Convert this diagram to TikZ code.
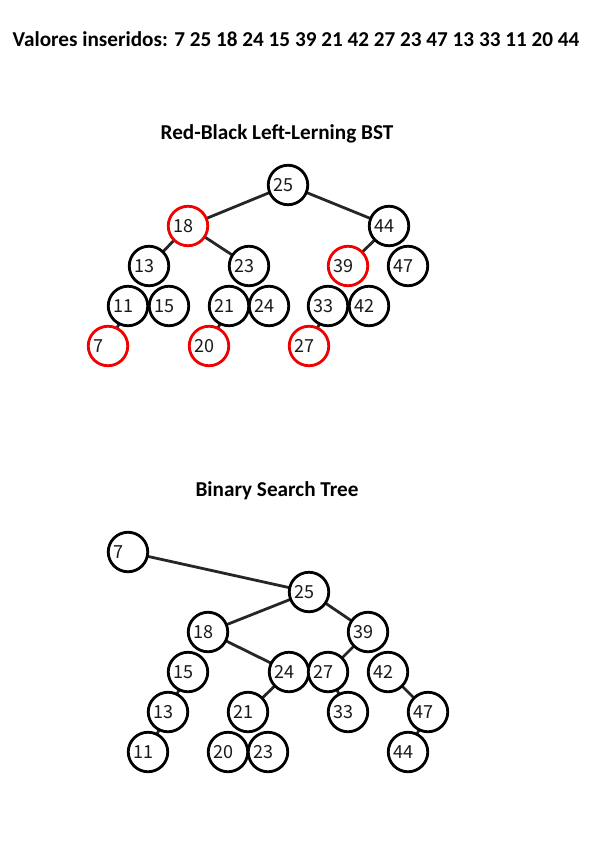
\documentclass[tikz,border=0pt]{standalone}
\usepackage{fontspec}
\usetikzlibrary{backgrounds}
\setmainfont{Carlito}
\newfontfamily\numfont{Noto Sans CJK JP}
\definecolor{rbred}{HTML}{F00000}
\definecolor{edgec}{HTML}{262626}
\definecolor{numc}{HTML}{1A1A1A}
\begin{document}
\begin{tikzpicture}[x=1pt,y=-1pt,
  nd/.style={circle, draw=black, line width=2.8pt, fill=white, minimum size=39.5pt, inner sep=0pt,
    text width=29pt, align=left, text height=12.5pt, text depth=0pt,
    font=\numfont\fontsize{18}{18}\selectfont, text=numc},
  rd/.style={nd, draw=rbred},
  edge/.style={draw=edgec, line width=2.8pt},
  ttl/.style={font=\bfseries\fontsize{21.2}{23}\selectfont, inner sep=0pt}]
\useasboundingbox (0,0) rectangle (595,842);
% titles
\node[ttl] (t1) at (296,39) {Valores inseridos: 7 25 18 24 15 39 21 42 27 23 47 13 33 11 20 44};
\node[ttl] (t2) at (277,134) {Red-Black Left-Lerning BST};
\node[ttl] (t3) at (277,491) {Binary Search Tree};
% Red-black tree
\node[nd] (r25) at (288,185) {25};
\node[rd] (r18) at (188,226) {18};
\node[nd] (r44) at (389,226) {44};
\node[nd] (r13) at (149,266) {13};
\node[nd] (r23) at (249,266) {23};
\node[rd] (r39) at (348,266) {39};
\node[nd] (r47) at (408,266) {47};
\node[nd] (r11) at (128,306) {11};
\node[nd] (r15) at (169,306) {15};
\node[nd] (r21) at (229,306) {21};
\node[nd] (r24) at (269,306) {24};
\node[nd] (r33) at (328,306) {33};
\node[nd] (r42) at (369,306) {42};
\node[rd] (r7) at (108,346) {7};
\node[rd] (r20) at (209,346) {20};
\node[rd] (r27) at (309,346) {27};
\begin{scope}[on background layer]
\draw[edge] (r25.center) -- (r18.center);
\draw[edge] (r25.center) -- (r44.center);
\draw[edge] (r18.center) -- (r13.center);
\draw[edge] (r18.center) -- (r23.center);
\draw[edge] (r44.center) -- (r39.center);
\draw[edge] (r11.center) -- (r7.center);
\draw[edge] (r21.center) -- (r20.center);
\draw[edge] (r33.center) -- (r27.center);
\end{scope}
% Binary search tree
\node[nd] (b7) at (128,552) {7};
\node[nd] (b25) at (309,592) {25};
\node[nd] (b18) at (208,632) {18};
\node[nd] (b39) at (368,632) {39};
\node[nd] (b15) at (188,672) {15};
\node[nd] (b24) at (289,672) {24};
\node[nd] (b27) at (328,672) {27};
\node[nd] (b42) at (388,672) {42};
\node[nd] (b13) at (168,712) {13};
\node[nd] (b21) at (248,712) {21};
\node[nd] (b33) at (348,712) {33};
\node[nd] (b47) at (428,712) {47};
\node[nd] (b11) at (148,752) {11};
\node[nd] (b20) at (228,752) {20};
\node[nd] (b23) at (268,752) {23};
\node[nd] (b44) at (408,752) {44};
\begin{scope}[on background layer]
\draw[edge] (b7.center) -- (b25.center);
\draw[edge] (b25.center) -- (b18.center);
\draw[edge] (b25.center) -- (b39.center);
\draw[edge] (b18.center) -- (b24.center);
\draw[edge] (b39.center) -- (b27.center);
\draw[edge] (b15.center) -- (b13.center);
\draw[edge] (b13.center) -- (b11.center);
\draw[edge] (b24.center) -- (b21.center);
\draw[edge] (b27.center) -- (b33.center);
\draw[edge] (b42.center) -- (b47.center);
\draw[edge] (b47.center) -- (b44.center);
\end{scope}
\end{tikzpicture}
\end{document}
